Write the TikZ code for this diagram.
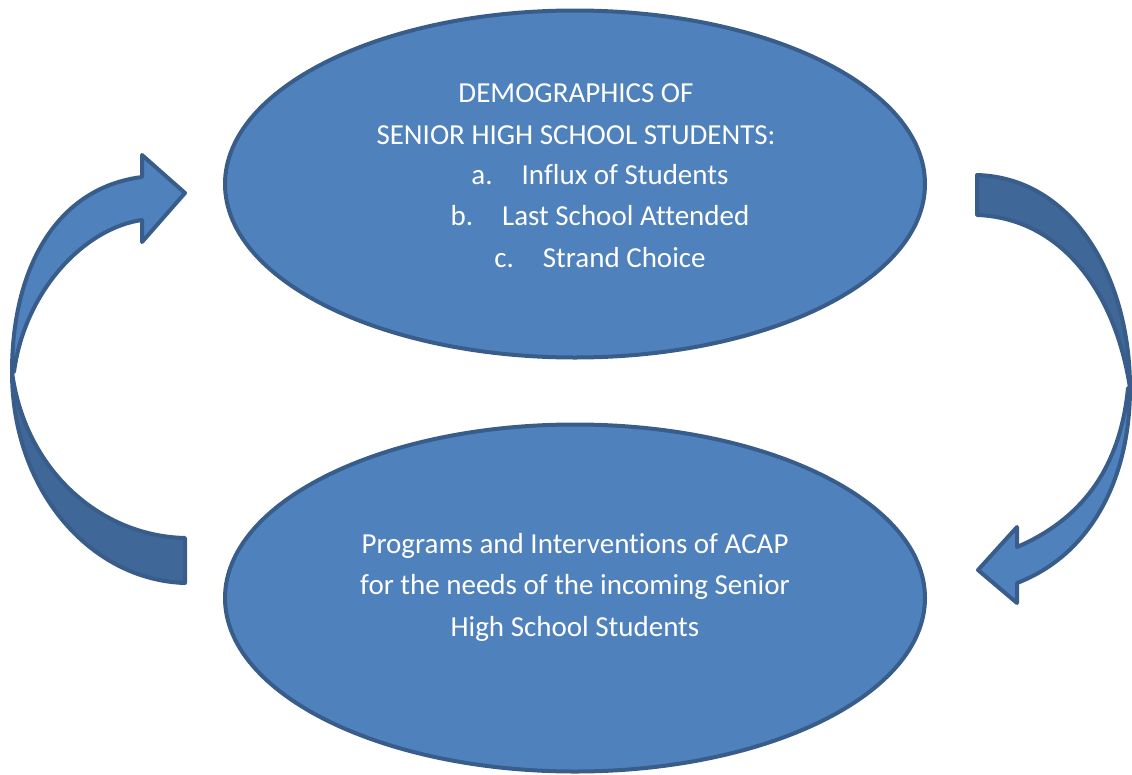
\documentclass[tikz,border=0pt]{standalone}
\usepackage{fontspec}
\setmainfont{Carlito}[Ligatures={NoCommon}]
\usetikzlibrary{shapes.geometric}
\definecolor{fillblue}{HTML}{4F81BD}
\definecolor{darkface}{HTML}{3F6797}
\definecolor{edgeblue}{HTML}{385D8A}
\begin{document}
\begin{tikzpicture}[x=1pt,y=-1pt,
  bubble/.style={ellipse, draw=edgeblue, fill=fillblue, line width=4pt, inner sep=0pt, minimum width=700pt, minimum height=347pt},
  label/.style={text=white, align=center, font=\fontsize{29}{41.5}\selectfont},
  lightface/.style={fill=fillblue, draw=edgeblue, line width=4pt, line join=round},
  backface/.style={fill=darkface, draw=edgeblue, line width=4pt, line join=round}]
\useasboundingbox (0,0) rectangle (1132,774);
\node[bubble] (top) at (575,184) {};
\node[bubble] (bot) at (575,598) {};
\node[label] (toptitle) at (576,114) {DEMOGRAPHICS OF\\SENIOR HIGH SCHOOL STUDENTS:};
\node[label] (toplist) at (600,216) {a.\hspace{29pt}Influx of Students\\b.\hspace{29pt}Last School Attended\\c.\hspace{29pt}Strand Choice};
\node[label] (bottext) at (575,587) {Programs and Interventions of ACAP\\for the needs of the incoming Senior\\High School Students};
% left curved arrow
\filldraw[backface] (185,583) .. controls (90,580) and (12,490) .. (12,372)
  .. controls (25,470) and (100,536) .. (185,538) -- cycle;
\filldraw[lightface] (12,372) .. controls (12,270) and (55,188) .. (142,177)
  -- (142,155) -- (185,193) -- (142,242) -- (142,220)
  .. controls (85,228) and (25,290) .. (14,372) -- cycle;
% right curved arrow
\filldraw[backface] (977,175) .. controls (1075,178) and (1130,280) .. (1130,388)
  .. controls (1115,290) and (1060,218) .. (977,215) -- cycle;
\filldraw[lightface] (1130,388) .. controls (1130,480) and (1090,555) .. (1017,583)
  -- (1017,603) -- (978,570) -- (1017,527) -- (1017,547)
  .. controls (1080,520) and (1120,470) .. (1128,388) -- cycle;
\end{tikzpicture}
\end{document}
